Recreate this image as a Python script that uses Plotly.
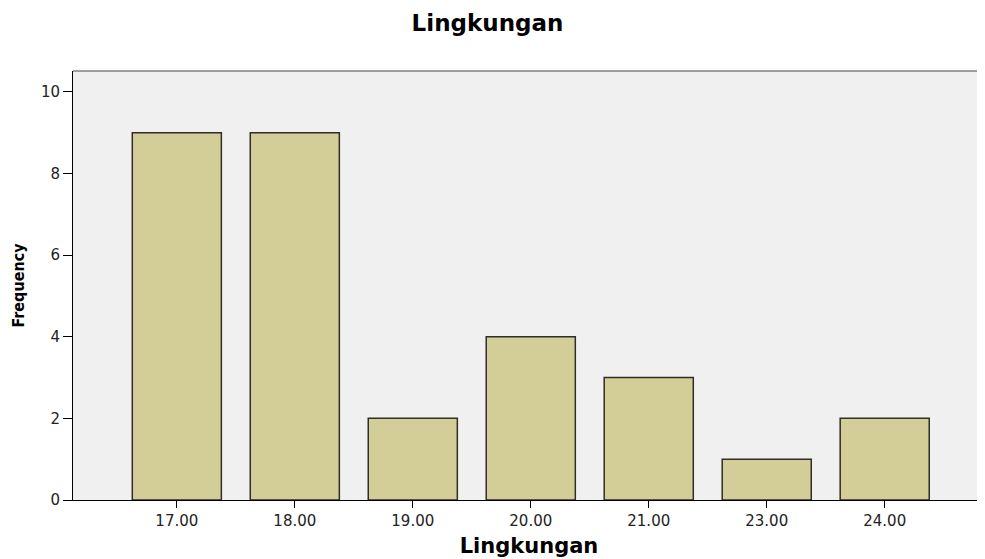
import plotly.graph_objects as go

categories = ["17.00", "18.00", "19.00", "20.00", "21.00", "23.00", "24.00"]
frequency = [9, 9, 2, 4, 3, 1, 2]
y_ticks = [0, 2, 4, 6, 8, 10]

tick_font = "DejaVu Sans, Liberation Sans, sans-serif"
bold_font = "DejaVu Sans, Liberation Sans, sans-serif"
narrow_font = "Liberation Sans Narrow, DejaVu Sans Condensed, Liberation Sans, sans-serif"

# the page body has an 8px margin, so the figure is sized to sit inside the window
W, H = 977, 551

fig = go.Figure()
fig.add_trace(go.Bar(
    x=categories,
    y=frequency,
    width=0.755,
    marker=dict(color="#d3ce97", line=dict(color="#2e2e26", width=1.5)),
))

fig.update_layout(
    width=W, height=H,
    margin=dict(l=65, r=0, t=63, b=59),
    paper_bgcolor="white",
    plot_bgcolor="#f0f0f0",
    showlegend=False,
    font=dict(family=tick_font, color="black", size=15),
    title=dict(text="<b>Lingkungan</b>", x=479.5 / W, xanchor="center",
               y=1 - 14.5 / H, yanchor="middle",
               font=dict(family=bold_font, size=23)),
    shapes=[dict(type="line", xref="paper", yref="paper", x0=0, x1=1, y0=1, y1=1,
                 line=dict(color="#808080", width=1.5))],
)
fig.update_xaxes(
    type="category", range=[-0.88, 6.85],
    showline=True, linecolor="black", linewidth=1,
    ticks="outside", ticklen=7, tickcolor="black",
    showgrid=False, zeroline=False,
    tickfont=dict(size=15, color="#222"),
    title=dict(text="<b>Lingkungan</b>", font=dict(family=bold_font, size=21), standoff=9),
)
fig.update_yaxes(
    range=[0, 10.51], tickvals=y_ticks,
    showline=True, linecolor="black", linewidth=1,
    ticks="outside", ticklen=9, tickcolor="black",
    showgrid=False, zeroline=False,
    tickfont=dict(size=15, color="#222"),
    title=dict(text="<b>Frequency</b>", font=dict(family=narrow_font, size=16), standoff=12),
)

fig.write_html("out.html")
